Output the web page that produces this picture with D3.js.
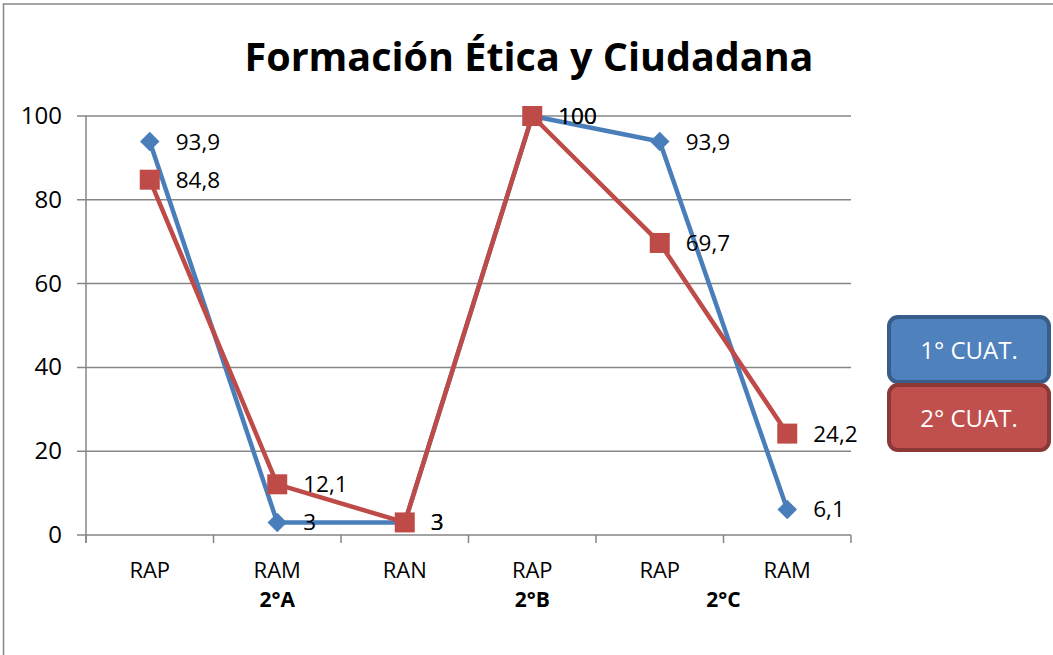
<!DOCTYPE html>
<html>
<head>
<meta charset="utf-8">
<script src="https://cdn.jsdelivr.net/npm/d3@7"></script>
<style>
  body { margin: 0; background: #fff; }
  svg text { font-family: "Open Sans", "Noto Sans", sans-serif; }
</style>
</head>
<body>
<svg id="svg"></svg>
<script>

const width = 1053;
const height = 655;

// data
const categories = ["RAP", "RAM", "RAN", "RAP", "RAP", "RAM"];
const groups = [ { name: "2°A", from: 0, to: 2 }, { name: "2°B", from: 3, to: 3 }, { name: "2°C", from: 4, to: 5 } ];
const cuat1 = [93.9, 3, 3, 100, 93.9, 6.1];
const cuat2 = [84.8, 12.1, 3, 100, 69.7, 24.2];
const yTicks = [0, 20, 40, 60, 80, 100];
const seriesNames = ["1° CUAT.", "2° CUAT."];

const plot = { left: 86, right: 851, top: 116, bottom: 535 };

const svg = d3.select("#svg")
			.attr("width", width)
			.attr("height", height);

// chart border (runs off the right and bottom of the picture)
svg.append("rect")
	.attr("x", 3.5).attr("y", 4)
	.attr("width", 1060).attr("height", 670)
	.style("fill", "none")
	.style("stroke", "#868686")
	.style("stroke-width", 1.5);

svg.append("text")
	.attr("x", 529).attr("y", 71)
	.attr("text-anchor", "middle")
	.style("font-size", "39.5px")
	.style("font-weight", "bold")
	.text("Formación Ética y Ciudadana");

const x = d3.scaleBand()
			.domain(d3.range(categories.length))
			.range([plot.left, plot.right]);

const y = d3.scaleLinear()
			.domain([0, 100])
			.range([plot.bottom, plot.top]);

// gridlines
svg.append("g").selectAll("line")
	.data(yTicks)
	.enter().append("line")
	.attr("x1", plot.left - 9).attr("x2", plot.right)
	.attr("y1", d => y(d)).attr("y2", d => y(d))
	.style("stroke", "#868686")
	.style("stroke-width", 1.5);

svg.append("line")
	.attr("x1", plot.left).attr("x2", plot.left)
	.attr("y1", plot.top).attr("y2", plot.bottom + 8)
	.style("stroke", "#868686")
	.style("stroke-width", 1.5);

// y labels
svg.append("g").selectAll("text")
	.data(yTicks)
	.enter().append("text")
	.attr("x", 62).attr("y", d => y(d) + 8)
	.attr("text-anchor", "end")
	.style("font-size", "24px")
	.text(d => d);

// category ticks
svg.append("g").selectAll("line")
	.data(d3.range(categories.length + 1))
	.enter().append("line")
	.attr("x1", i => plot.left + i * x.step()).attr("x2", i => plot.left + i * x.step())
	.attr("y1", plot.bottom).attr("y2", plot.bottom + 8)
	.style("stroke", "#868686")
	.style("stroke-width", 1.5);

svg.append("g").selectAll("text")
	.data(categories)
	.enter().append("text")
	.attr("x", (d, i) => x(i) + x.bandwidth() / 2)
	.attr("y", 578)
	.attr("text-anchor", "middle")
	.style("font-size", "22px")
	.text(d => d);

svg.append("g").selectAll("text")
	.data(groups)
	.enter().append("text")
	.attr("x", g => (x(g.from) + x(g.to) + x.bandwidth()) / 2)
	.attr("y", 607)
	.attr("text-anchor", "middle")
	.style("font-size", "21px")
	.style("font-weight", "bold")
	.text(g => g.name);

const cx = i => x(i) + x.bandwidth() / 2;

const line = d3.line()
			.x((d, i) => cx(i))
			.y(d => y(d));

const colors = ["#4a7ebb", "#be4b48"];

[cuat1, cuat2].forEach(function(values, s) {
	svg.append("path")
		.datum(values)
		.attr("d", line)
		.style("fill", "none")
		.style("stroke", colors[s])
		.style("stroke-width", 4.5)
		.style("stroke-linejoin", "round");
});

// markers
svg.append("g").selectAll("path")
	.data(cuat1)
	.enter().append("path")
	.attr("d", d3.symbol(d3.symbolSquare, 190)())
	.attr("transform", (d, i) => `translate(${cx(i)},${y(d)}) rotate(45)`)
	.style("fill", colors[0]);

svg.append("g").selectAll("rect")
	.data(cuat2)
	.enter().append("rect")
	.attr("x", (d, i) => cx(i) - 10).attr("y", d => y(d) - 10)
	.attr("width", 20).attr("height", 20)
	.style("fill", colors[1]);

// data labels
const fmt = v => String(v).replace(".", ",");
[cuat1, cuat2].forEach(function(values) {
	svg.append("g").selectAll("text")
		.data(values)
		.enter().append("text")
		.attr("x", (d, i) => cx(i) + 26)
		.attr("y", d => y(d) + 8)
		.style("font-size", "22.5px")
		.text(d => fmt(d));
});

// legend
const legend = svg.append("g");
seriesNames.forEach(function(name, s) {
	legend.append("rect")
		.attr("x", 889).attr("y", 317 + s * 68)
		.attr("width", 160).attr("height", 65)
		.attr("rx", 9)
		.style("fill", s ? "#c0504d" : "#4f81bd")
		.style("stroke", s ? "#8c3836" : "#385d8a")
		.style("stroke-width", 4);
	legend.append("text")
		.attr("x", 969).attr("y", 359 + s * 68)
		.attr("text-anchor", "middle")
		.style("fill", "#fff")
		.style("font-size", "24px")
		.text(name);
});

</script>
</body>
</html>
